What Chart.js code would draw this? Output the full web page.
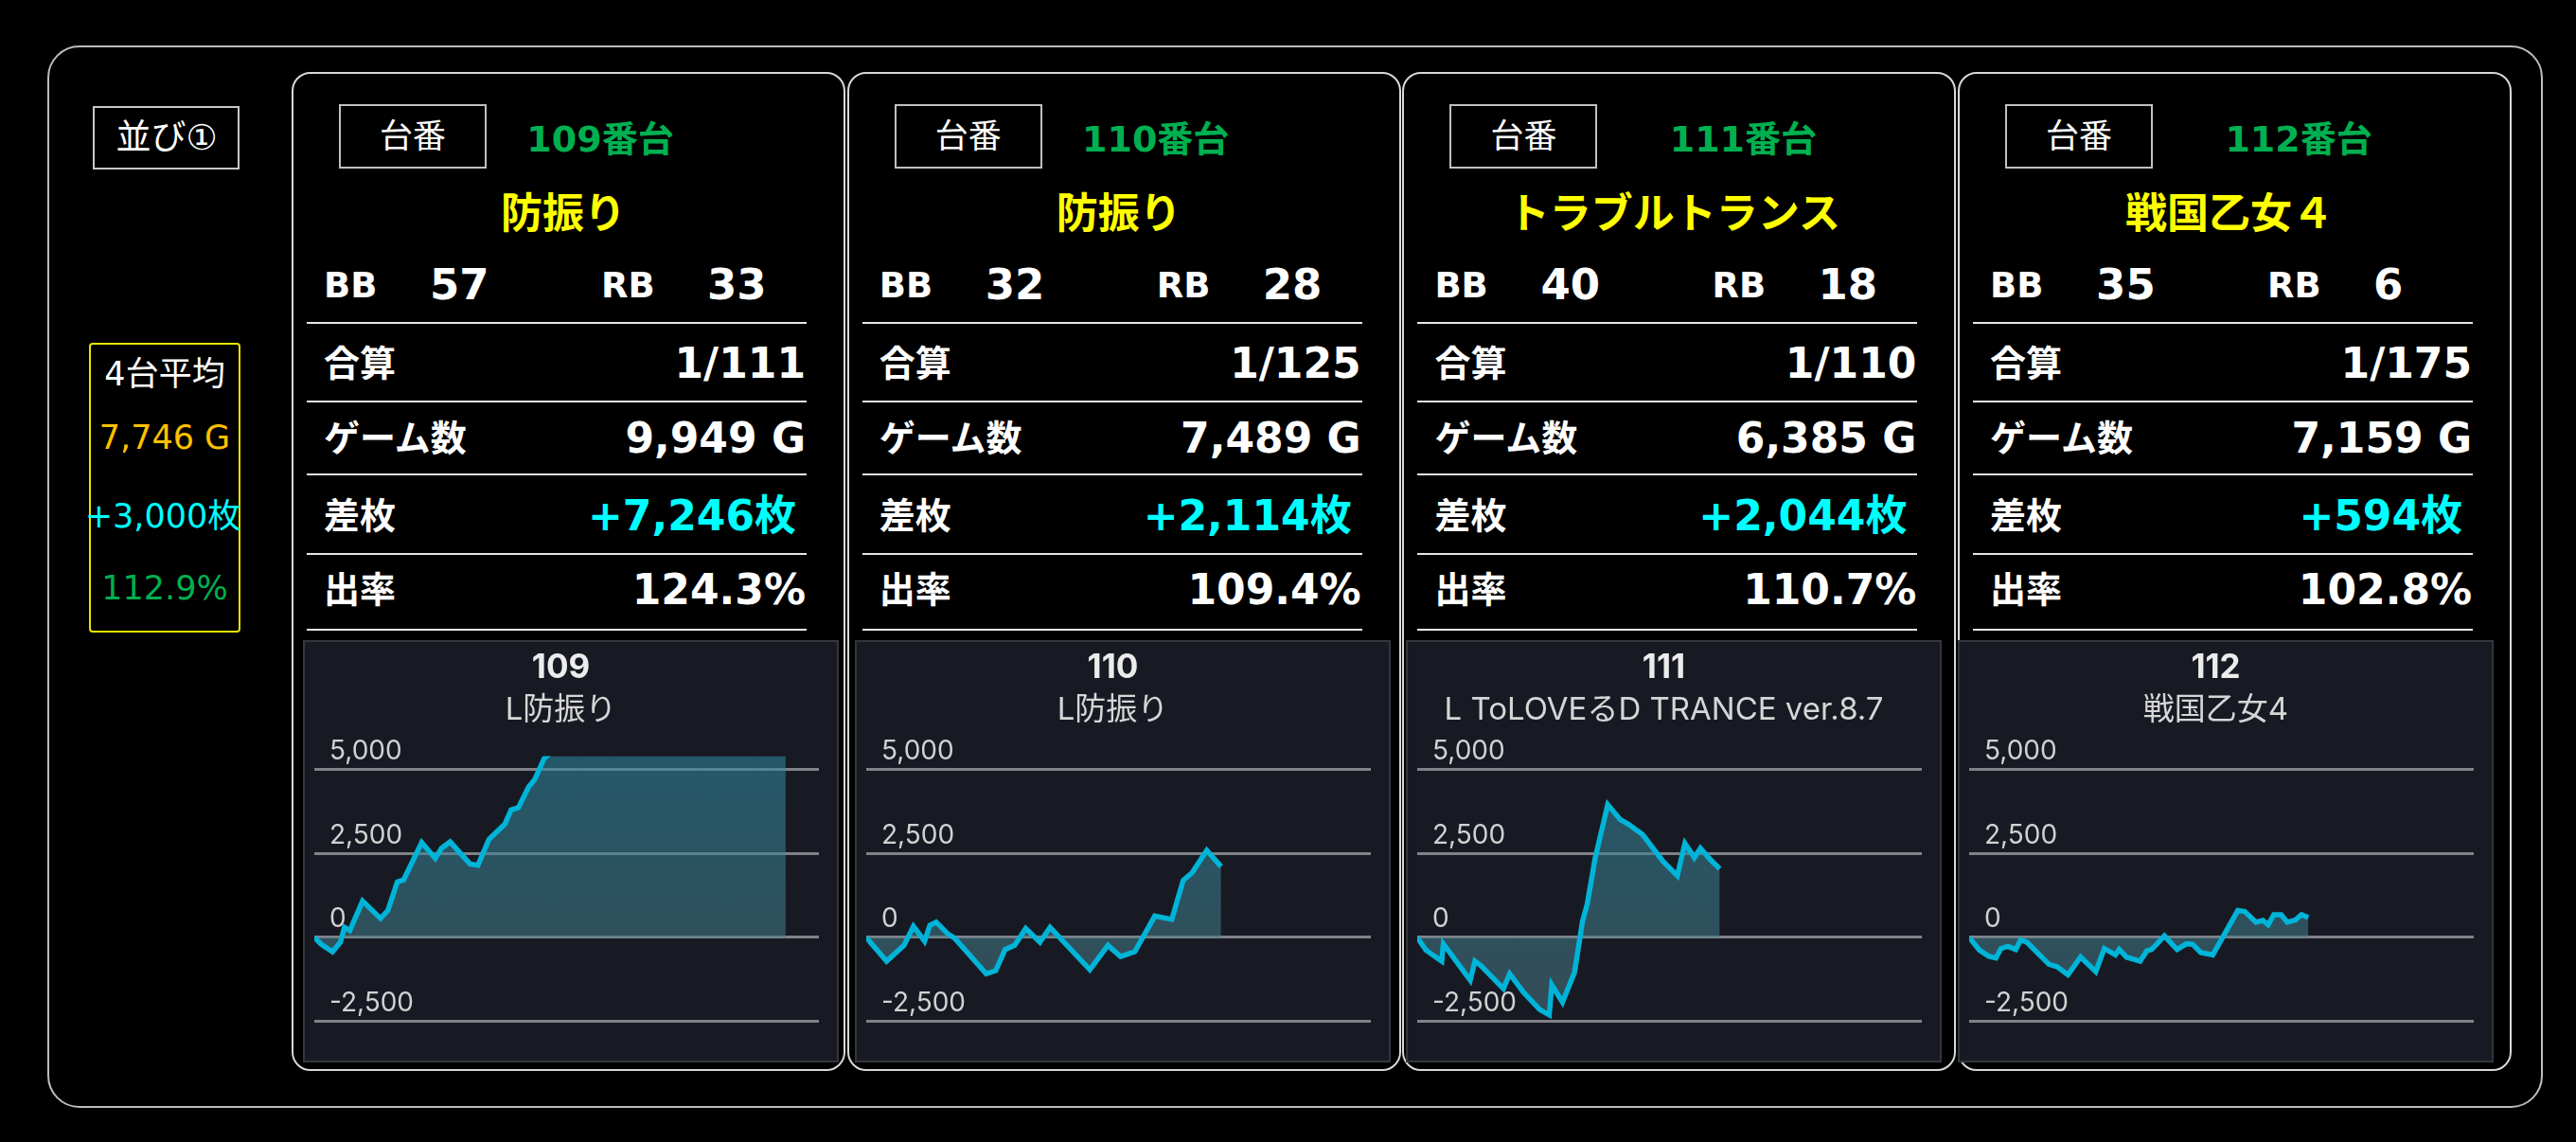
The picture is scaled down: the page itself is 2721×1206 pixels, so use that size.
<!DOCTYPE html>
<html lang="ja">
<head>
<meta charset="utf-8">
<title>並び① 差枚グラフ</title>
<script src="https://cdn.jsdelivr.net/npm/chart.js@4.4.1/dist/chart.umd.min.js"></script>
<style>
  html, body { margin: 0; padding: 0; background: #000; }
  body { position: relative; width: 2721px; height: 1206px; overflow: hidden;
         font-family: "DejaVu Sans", "Noto Sans CJK JP", sans-serif; color: #fff; }
  .box { position: absolute; box-sizing: border-box; }
  .txt { position: absolute; white-space: nowrap; height: 80px; line-height: 80px; }
  .graph { position: absolute; background: #181a23; outline: 2px solid #34363d; outline-offset: -2px; }
  .rule { position: absolute; height: 2px; background: #e6e6e6; }
</style>
</head>
<body>
<div class="box" style="left:50px;top:48px;width:2636px;height:1122px;border:2px solid #bdbdbd;border-radius:34px"></div>
<script>
// table info
const tableNumbers = ['109', '110', '111', '112'];
const machineNames = ['防振り', '防振り', 'トラブルトランス', '戦国乙女４'];
const chartNames = ['L防振り', 'L防振り', 'L ToLOVEるD TRANCE ver.8.7', '戦国乙女4'];
const bbCounts = [57, 32, 40, 35];
const rbCounts = [33, 28, 18, 6];
const combinedOdds = ['1/111', '1/125', '1/110', '1/175'];
const gameCounts = [9949, 7489, 6385, 7159];
const coinDiffs = [7246, 2114, 2044, 594];
const payoutRates = [124.3, 109.4, 110.7, 102.8];

const avgGames = 7746;
const avgDiff = 3000;
const avgRate = 112.9;

// slump graphs: games played vs coin difference
const games109 = [0, 150, 384, 551, 637, 751, 1018, 1398, 1552, 1752, 1885, 2266, 2553, 2686, 2866, 3287, 3453, 3687, 3840, 4021, 4154, 4307, 4521, 4655, 4850, 5100, 5700, 6400, 7200, 8000, 8800, 9400, 9949];
const diff109 = [0, -207, -424, -141, 302, 207, 1084, 566, 802, 1650, 1716, 2829, 2357, 2659, 2848, 2188, 2150, 2923, 3131, 3376, 3800, 3866, 4479, 4715, 5331, 5650, 5950, 6250, 6550, 6800, 7000, 7120, 7246];

const games110 = [0, 430, 797, 997, 1231, 1344, 1477, 1731, 1864, 2532, 2732, 2932, 3132, 3366, 3666, 3880, 4720, 5101, 5368, 5668, 6090, 6450, 6689, 6881, 7187, 7489];
const diff110 = [0, -707, -236, 330, -113, 358, 453, 94, -19, -1084, -990, -358, -236, 264, -141, 302, -962, -236, -566, -424, 640, 540, 1698, 1933, 2595, 2114];

const games111 = [0, 184, 350, 517, 551, 1118, 1218, 1351, 1819, 1952, 2252, 2586, 2786, 2840, 3066, 3320, 3487, 3587, 3754, 4021, 4288, 4454, 4755, 5189, 5489, 5650, 5850, 5977, 6192, 6385];
const diff111 = [0, -377, -547, -707, -189, -1273, -707, -849, -1528, -1084, -1650, -2150, -2310, -1415, -1933, -1037, 472, 990, 2357, 3960, 3508, 3376, 3065, 2263, 1839, 2800, 2380, 2660, 2312, 2044];

const games112 = [0, 217, 417, 564, 671, 817, 984, 1084, 1218, 1685, 1852, 2085, 2352, 2673, 2853, 3086, 3166, 3320, 3607, 3754, 3854, 4121, 4388, 4588, 4721, 4888, 5142, 5670, 5816, 6056, 6200, 6310, 6430, 6585, 6714, 6885, 7014, 7159];
const diff112 = [0, -377, -566, -613, -330, -264, -358, -75, -141, -801, -868, -1113, -585, -1018, -330, -519, -358, -585, -707, -396, -358, 47, -358, -189, -207, -453, -519, 802, 773, 453, 509, 377, 679, 679, 453, 518, 679, 594];

const yTicks = [-2500, 0, 2500, 5000];
const yMin = -2800, yMax = 5400, xMax = 10650;

const slumps = [[games109, diff109], [games110, diff110], [games111, diff111], [games112, diff112]];

function fmt(n) { return n.toLocaleString('en-US'); }

function put(str, x, cy, size, color, bold, align) {
  const el = document.createElement('div');
  el.className = 'txt';
  el.textContent = str;
  el.style.fontSize = size + 'px';
  el.style.color = color;
  el.style.fontWeight = bold ? 'bold' : 'normal';
  el.style.top = (cy - 40) + 'px';
  if (align === 'left') {
    el.style.left = x + 'px';
  } else if (align === 'right') {
    el.style.left = (x - 700) + 'px'; el.style.width = '700px'; el.style.textAlign = 'right';
  } else {
    el.style.left = (x - 350) + 'px'; el.style.width = '700px'; el.style.textAlign = 'center';
  }
  document.body.appendChild(el);
}

function box(x, y, w, h, css) {
  const el = document.createElement('div');
  el.className = 'box';
  el.style.cssText = 'left:' + x + 'px;top:' + y + 'px;width:' + w + 'px;height:' + h + 'px;' + css;
  document.body.appendChild(el);
  return el;
}

// left column
box(98, 112, 155, 67, 'border:2px solid #c8c8c8');
put('並び①', 176, 146, 37, '#fff', false, 'center');
box(94, 362, 160, 306, 'border:2px solid #e6e600;border-radius:4px');
put('4台平均', 174, 395, 35, '#fff', false, 'center');
put(fmt(avgGames) + ' G', 174, 462, 35, '#ffc000', false, 'center');
put('+' + fmt(avgDiff) + '枚', 172, 545, 35, '#00ffff', false, 'center');
put(avgRate.toFixed(1) + '%', 174, 621, 35, '#00b050', false, 'center');

// panels
const numberCx = [326, 326, 360, 360];
const ruleYs = [341, 424, 501, 585, 665];
const rowYs = [384, 463, 545, 623];
const rowLabels = ['合算', 'ゲーム数', '差枚', '出率'];

for (let i = 0; i < 4; i++) {
  const px = 308 + i * 586.7;
  box(px, 76, 585, 1055, 'border:2px solid #d8d8d8;border-radius:20px');
  box(px + 50, 110, 156, 68, 'border:2px solid #c0c0c0');
  put('台番', px + 128, 144, 35, '#fff', false, 'center');
  put(tableNumbers[i] + '番台', px + numberCx[i], 147, 38, '#00b050', true, 'center');
  put(machineNames[i], px + 287, 226, 44, '#ffff00', true, 'center');

  put('BB', px + 34, 302, 37, '#fff', true, 'left');
  put(String(bbCounts[i]), px + 146, 301, 45, '#fff', true, 'left');
  put('RB', px + 327, 302, 37, '#fff', true, 'left');
  put(String(rbCounts[i]), px + 439, 301, 45, '#fff', true, 'left');

  ruleYs.forEach(y => {
    const r = document.createElement('div');
    r.className = 'rule';
    r.style.left = (px + 16) + 'px';
    r.style.top = (y - 1) + 'px';
    r.style.width = '528px';
    document.body.appendChild(r);
  });

  rowLabels.forEach((lb, k) => put(lb, px + 34, rowYs[k], 38, '#fff', true, 'left'));
  put(combinedOdds[i], px + 543, rowYs[0], 44, '#fff', true, 'right');
  put(fmt(gameCounts[i]) + ' G', px + 543, rowYs[1], 44, '#fff', true, 'right');
  put('+' + fmt(coinDiffs[i]) + '枚', px + 533, rowYs[2], 44, '#00ffff', true, 'right');
  put(payoutRates[i].toFixed(1) + '%', px + 543, rowYs[3], 44, '#fff', true, 'right');
}

// charts
Chart.defaults.font.family = "Inter, 'Noto Sans CJK JP', sans-serif";

function fillGradient(c) {
  const ch = c.chart, area = ch.chartArea;
  if (!area) return 'rgba(60,130,150,0.55)';
  const g = ch.ctx.createLinearGradient(0, area.top, 0, area.bottom);
  g.addColorStop(0, 'rgba(46,138,160,0.56)');
  g.addColorStop(1, 'rgba(77,115,126,0.56)');
  return g;
}

for (let i = 0; i < 4; i++) {
  const wrap = document.createElement('div');
  wrap.className = 'graph';
  wrap.style.left = (320 + i * 582.7) + 'px';
  wrap.style.top = '676px';
  wrap.style.width = '566px';
  wrap.style.height = '446px';
  const cv = document.createElement('canvas');
  wrap.appendChild(cv);
  document.body.appendChild(wrap);

  const gx = slumps[i][0], gy = slumps[i][1];
  new Chart(cv, {
    type: 'line',
    data: {
      datasets: [{
        data: gx.map((g, k) => ({ x: g, y: gy[k] })),
        borderColor: '#00b4d8',
        borderWidth: 5.5,
        pointRadius: 0,
        tension: 0,
        fill: 'origin',
        backgroundColor: fillGradient
      }]
    },
    options: {
      responsive: true,
      maintainAspectRatio: false,
      animation: false,
      layout: { padding: { left: 0, right: 21, top: 0, bottom: 0 } },
      plugins: {
        legend: { display: false },
        tooltip: { enabled: false },
        title: {
          display: true, text: tableNumbers[i], color: '#ececec',
          font: { size: 35, weight: 'bold' }, padding: { top: 8, bottom: 2 }
        },
        subtitle: {
          display: true, text: chartNames[i], color: '#d6d6d6',
          font: { size: 33 }, padding: { top: 2, bottom: 29 }
        }
      },
      scales: {
        x: { type: 'linear', min: 0, max: xMax, display: false },
        y: {
          min: yMin, max: yMax,
          afterBuildTicks: axis => { axis.ticks = yTicks.map(v => ({ value: v })); },
          afterFit: axis => { axis.width = 12; },
          ticks: {
            mirror: true, padding: 16, labelOffset: -19, color: '#d2d2d2',
            font: { size: 28 },
            callback: v => fmt(v)
          },
          grid: { color: '#808288', lineWidth: 3, drawTicks: false },
          border: { display: false }
        }
      }
    }
  });
}
</script>
</body>
</html>
